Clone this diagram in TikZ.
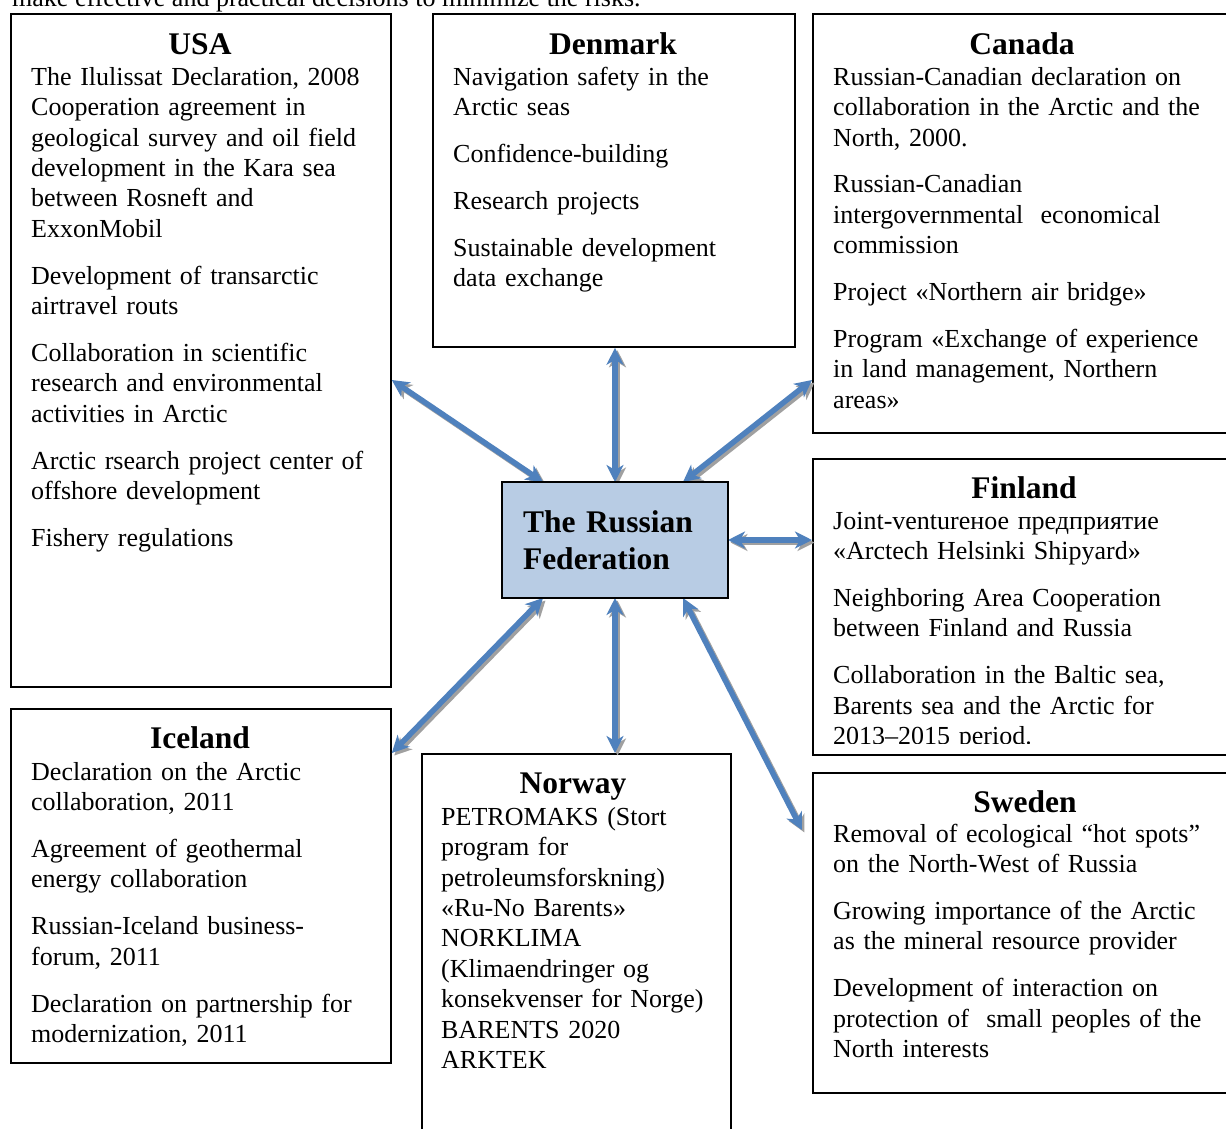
\documentclass[tikz,border=0pt]{standalone}
\usepackage{fontspec}
\setmainfont{Liberation Serif}
\usetikzlibrary{arrows.meta,calc}
\definecolor{arrowblue}{HTML}{4F81BD}
\definecolor{shadowgray}{HTML}{A0A0A0}
\definecolor{rfblue}{HTML}{B8CCE4}
\newcommand\bodyfont{\fontsize{26pt}{30.4pt}\selectfont}
\newcommand\titlefont{\fontsize{31.5pt}{37pt}\selectfont\bfseries}
\newcommand\firststrut{\rule{0pt}{24pt}}
\newcommand\pgapbreak{\\[16.5pt]}
\newcommand\linkpair[2]{\draw[linkshadow] #1 -- #2; \draw[link] #1 -- #2;}
\begin{document}
\begin{tikzpicture}[x=1pt,y=-1pt,
  box/.style={draw=black, line width=1.8pt, rectangle, anchor=north west, inner sep=0pt},
  title/.style={anchor=base, inner sep=0pt, font=\titlefont},
  bodytext/.style={anchor=north west, inner sep=0pt, text width=#1, align=left, font=\bodyfont},
  link/.style={draw=arrowblue, line width=5.5pt, {Stealth[length=17pt,width=17pt,inset=5pt]}-{Stealth[length=17pt,width=17pt,inset=5pt]}},
  linkshadow/.style={link, draw=shadowgray, transform canvas={xshift=2.5pt,yshift=-2.5pt}}
]
\useasboundingbox (0,0) rectangle (1226,1128);
\clip (0,0) rectangle (1226,1128);
\fill[white] (0,0) rectangle (1226,1128);

% partially visible line of running text above the figure
\node[anchor=base west, inner sep=0pt, font=\bodyfont] (toptext) at (12,6) {make effective and practical decisions to minimize the risks.};

% boxes
\node[box, minimum width=380pt, minimum height=673pt] (usa) at (10,13) {};
\node[box, minimum width=362pt, minimum height=333pt] (dk) at (432,13) {};
\node[box, minimum width=424pt, minimum height=419pt] (ca) at (812,13) {};
\node[box, minimum width=424pt, minimum height=296pt] (fi) at (812,458) {};
\node[box, minimum width=380pt, minimum height=354pt] (is) at (10,708) {};
\node[box, minimum width=309pt, minimum height=400pt] (no) at (421,753) {};
\node[box, minimum width=424pt, minimum height=320pt] (se) at (812,772) {};

% arrows
\coordinate (swend) at ($(se.west |- 0,830)+(-10,0)$);
\linkpair{(usa.east |- 0,380)}{(615,482 -| 543,0)}
\linkpair{(dk.south -| 615,0)}{(615,482)}
\linkpair{(ca.west |- 0,380)}{(615,482 -| 683,0)}
\linkpair{(728,540)}{(fi.west |- 0,540)}
\linkpair{(615,598 -| 543,0)}{(is.east |- 0,753)}
\linkpair{(615,598)}{(no.north -| 615,0)}
\linkpair{(615,598 -| 683,0)}{(swend)}

% centre
\node[box, fill=rfblue, anchor=center, minimum width=226pt, minimum height=116pt,
      text width=184pt, inner xsep=21pt, inner ysep=0pt, align=left, font=\titlefont]
      (rf) at (615,540) {The Russian\\Federation};

% USA
\node[title] (usat) at (200,54) {USA};
\node[bodytext=355pt] (usab) at (31,61) {\firststrut The Ilulissat Declaration, 2008\\Cooperation agreement in\\geological survey and oil field\\development in the Kara sea\\between Rosneft and\\ExxonMobil\pgapbreak Development of transarctic\\airtravel routs\pgapbreak Collaboration in scientific\\research and environmental\\activities in Arctic\pgapbreak Arctic rsearch project center of\\offshore development\pgapbreak Fishery regulations};

% Denmark
\node[title] (dkt) at (613,54) {Denmark};
\node[bodytext=335pt] (dkb) at (453,61) {\firststrut Navigation safety in the\\Arctic seas\pgapbreak Confidence-building\pgapbreak Research projects\pgapbreak Sustainable development\\data exchange};

% Canada
\node[title] (cat) at (1022,54) {Canada};
\node[bodytext=390pt] (cab) at (833,61) {\firststrut Russian-Canadian declaration on\\collaboration in the Arctic and the\\North, 2000.\pgapbreak Russian-Canadian\\intergovernmental\ \ economical\\commission\pgapbreak Project «Northern air bridge»\pgapbreak Program «Exchange of experience\\in land management, Northern\\areas»};

% Finland
\node[title] (fit) at (1024,498) {Finland};
\begin{scope}
\clip (812,458) rectangle (1236,743);
\node[bodytext=390pt] (fib) at (833,505) {\firststrut Joint-ventureное предприятие\\«Arctech Helsinki Shipyard»\pgapbreak Neighboring Area Cooperation\\between Finland and Russia\pgapbreak Collaboration in the Baltic sea,\\Barents sea and the Arctic for\\2013–2015 period.};
\end{scope}

% Iceland
\node[title] (ist) at (200,748) {Iceland};
\node[bodytext=355pt] (isb) at (31,756) {\firststrut Declaration on the Arctic\\collaboration, 2011\pgapbreak Agreement of geothermal\\energy collaboration\pgapbreak Russian-Iceland business-\\forum, 2011\pgapbreak Declaration on partnership for\\modernization, 2011};

% Norway
\node[title] (not) at (573,793) {Norway};
\node[bodytext=285pt] (nob) at (441,801) {\firststrut PETROMAKS (Stort\\program for\\petroleumsforskning)\\«Ru-No Barents»\\NORKLIMA\\(Klimaendringer og\\konsekvenser for Norge)\\BARENTS 2020\\ARKTEK};

% Sweden
\node[title] (set) at (1025,812) {Sweden};
\node[bodytext=390pt] (seb) at (833,818) {\firststrut Removal of ecological “hot spots”\\on the North-West of Russia\pgapbreak Growing importance of the Arctic\\as the mineral resource provider\pgapbreak Development of interaction on\\protection of\ \ small peoples of the\\North interests};
\end{tikzpicture}
\end{document}
